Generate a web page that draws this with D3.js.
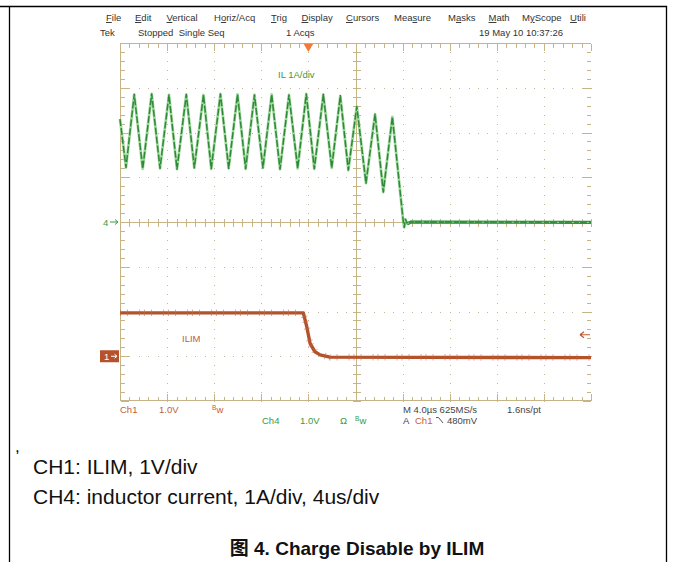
<!DOCTYPE html>
<html lang="en">
<head>
<meta charset="UTF-8">
<title>Charge Disable by ILIM</title>
<style>
  body { margin: 0; background: #fff; }
  svg { display: block; }
  text { font-family: "Liberation Sans", Arial, sans-serif; }
</style>
</head>
<body>
<script src="https://d3js.org/d3.v7.min.js"></script>
<script>
// scope settings
const timePerDiv = 4;          // us/div
const ch4Scale = 1;            // A/div
const ch1Scale = 1;            // V/div
const ch4Offset = 0;           // div
const ch1Offset = -3;          // div
const trigLevel = 0.48;        // V on Ch1

// CH4 inductor current (us, A)
const ilTime = [-16, -15.49, -14.79, -14.07, -13.31, -12.60, -11.84, -11.16, -10.37, -9.69,
  -8.91, -8.25, -7.47, -6.77, -6.02, -5.33, -4.58, -3.86, -3.12, -2.41,
  -1.65, -0.91, -0.18, 0.50, 1.27, 1.98, 2.71, 3.39, 4.11, 4.89,
  5.66, 6.36, 7.13, 8.06, 8.14, 8.24, 8.4, 8.7, 24];
const ilAmps = [2.30, 1.22, 2.85, 1.19, 2.86, 1.20, 2.84, 1.18, 2.85, 1.21,
  2.84, 1.19, 2.86, 1.20, 2.85, 1.19, 2.84, 1.21, 2.85, 1.18,
  2.84, 1.20, 2.86, 1.19, 2.85, 1.21, 2.82, 1.16, 2.58, 0.87,
  2.41, 0.67, 2.35, 0.00, -0.12, 0.06, -0.04, 0.0, -0.01];

// CH1 ILIM voltage (us, V)
const ilimTime = [-16, -0.43, -0.14, 0.14, 0.56, 0.99, 1.83, 24];
const ilimVolts = [0.97, 0.97, 0.66, 0.29, 0.10, 0.03, -0.02, -0.03];

const menuItems = ["File", "Edit", "Vertical", "Horiz/Acq", "Trig", "Display", "Cursors", "Measure", "Masks", "Math", "MyScope", "Utili"];
const menuKey = [0, 0, 0, 1, 0, 0, 0, 3, 1, 0, 1, 0];
const menuX = [106, 135, 166.5, 214, 271, 301.5, 346, 394, 448, 488.5, 522, 570];

const W = 683, H = 562;
const svg = d3.select("body").append("svg").attr("width", W).attr("height", H);

// page frame
svg.append("path")
  .attr("d", "M0,6.5H666.5V562M9.5,6.5V562")
  .attr("fill", "none").attr("stroke", "#000").attr("stroke-width", 1.3);

// scales
const x = d3.scaleLinear().domain([-4 * timePerDiv, 6 * timePerDiv]).range([120, 591]);
const dv = d3.scaleLinear().domain([-4, 4]).range([401, 43]);
const y4 = v => dv(v / ch4Scale + ch4Offset);
const y1 = v => dv(v / ch1Scale + ch1Offset);

const gridCol = "#c6b487";
const dotCol = "#c4b793";
const g = svg.append("g").attr("shape-rendering", "crispEdges");

const majT = d3.range(-16, 24.01, timePerDiv);
const minT = d3.range(-16, 24.01, timePerDiv / 5);
const majD = d3.range(-4, 4.01, 1);
const minD = d3.range(-4, 4.01, 0.2);

// dotted grid
majT.slice(1, -1).forEach(t => {
  if (t === 4) return;
  minD.forEach(d => g.append("rect").attr("x", Math.round(x(t))).attr("y", Math.round(dv(d))).attr("width", 1).attr("height", 1).attr("fill", dotCol));
});
majD.slice(1, -1).forEach(d => {
  if (d === 0) return;
  minT.forEach(t => g.append("rect").attr("x", Math.round(x(t))).attr("y", Math.round(dv(d))).attr("width", 1).attr("height", 1).attr("fill", dotCol));
});

// centre cross with ticks
const cx = Math.round(x(4)) + 0.5, cy = Math.round(dv(0)) + 0.5;
g.append("line").attr("x1", x(-16)).attr("x2", x(24)).attr("y1", cy).attr("y2", cy).attr("stroke", gridCol);
g.append("line").attr("x1", cx).attr("x2", cx).attr("y1", dv(4)).attr("y2", dv(-4)).attr("stroke", gridCol);
minT.forEach(t => g.append("line").attr("x1", Math.round(x(t)) + 0.5).attr("x2", Math.round(x(t)) + 0.5).attr("y1", cy - 4).attr("y2", cy + 4).attr("stroke", gridCol));
minD.forEach(d => g.append("line").attr("y1", Math.round(dv(d)) + 0.5).attr("y2", Math.round(dv(d)) + 0.5).attr("x1", cx - 4).attr("x2", cx + 4).attr("stroke", gridCol));

// edges
const L = 120.5, T = 43.5, B = 400.5, R = 590.5;
g.append("path").attr("d", `M${L},${B}V${T}H${R}M${L},${B}H${R}`).attr("fill", "none").attr("stroke", gridCol);
minT.forEach((t, i) => {
  const len = i % 5 === 0 ? 7 : 4;
  const px = Math.round(x(t)) + 0.5;
  g.append("line").attr("x1", px).attr("x2", px).attr("y1", T).attr("y2", T + len).attr("stroke", gridCol);
  g.append("line").attr("x1", px).attr("x2", px).attr("y1", B).attr("y2", B - len).attr("stroke", gridCol);
});
minD.forEach((d, i) => {
  const len = i % 5 === 0 ? 8 : 4;
  const py = Math.round(dv(d)) + 0.5;
  g.append("line").attr("y1", py).attr("y2", py).attr("x1", L).attr("x2", L + len).attr("stroke", gridCol);
  g.append("line").attr("y1", py).attr("y2", py).attr("x1", R).attr("x2", R - len).attr("stroke", gridCol);
});

// trigger position marker
svg.append("path")
  .attr("d", d3.symbol(d3.symbolTriangle, 40)())
  .attr("transform", `translate(${x(0)},${T + 3}) rotate(180)`)
  .attr("fill", "#f07a3a");

// traces
const ilLine = d3.line().x(d => x(d[0])).y(d => y4(d[1]));
const ilData = ilTime.map((t, i) => [t, ilAmps[i]]);
svg.append("path").datum(ilData).attr("d", ilLine)
  .attr("fill", "none").attr("stroke", "#a3d89e").attr("stroke-width", 2.8).attr("stroke-linejoin", "round");
svg.append("path").datum(ilData).attr("d", ilLine)
  .attr("fill", "none").attr("stroke", "#2c8a39").attr("stroke-width", 1.5).attr("stroke-dasharray", "7,2").attr("stroke-linejoin", "round");
svg.append("path").datum(ilData.filter(d => d[0] >= 8.4)).attr("d", ilLine)
  .attr("fill", "none").attr("stroke", "#348f40").attr("stroke-width", 3.2);
svg.append("path").datum(ilData.filter(d => d[0] >= 8.4)).attr("d", ilLine)
  .attr("fill", "none").attr("stroke", "#a6d79c").attr("stroke-width", 1).attr("stroke-dasharray", "2,5,1,7");

const ilimLine = d3.line().x(d => x(d[0])).y(d => y1(d[1]));
const ilimData = ilimTime.map((t, i) => [t, ilimVolts[i]]);
svg.append("path").datum(ilimData).attr("d", ilimLine)
  .attr("fill", "none").attr("stroke", "#b4522b").attr("stroke-width", 3.4).attr("stroke-linejoin", "round");
svg.append("path").datum(ilimData).attr("d", ilimLine)
  .attr("fill", "none").attr("stroke", "#c06a45").attr("stroke-width", 6.5).attr("stroke-dasharray", "1,6,1,11,1,4")
  .attr("opacity", 0.55);

// trigger level arrow
const ty = y1(trigLevel);
svg.append("path").attr("d", `M580,${ty}H590M580,${ty}l4,-3M580,${ty}l4,3`)
  .attr("fill", "none").attr("stroke", "#c05a32").attr("stroke-width", 1.2);

// channel ground markers
svg.append("text").attr("x", 103).attr("y", y4(0) + 3.5).attr("font-size", 9.5).attr("fill", "#3a9a40").text("4");
svg.append("path").attr("d", `M110,${y4(0)}H118M115,${y4(0) - 2.5}L118,${y4(0)}L115,${y4(0) + 2.5}`)
  .attr("fill", "none").attr("stroke", "#3a9a40").attr("stroke-width", 1);
svg.append("rect").attr("x", 100).attr("y", y1(0) - 6).attr("width", 19).attr("height", 12).attr("fill", "#b5522c");
svg.append("text").attr("x", 104).attr("y", y1(0) + 3.5).attr("font-size", 9.5).attr("fill", "#fff").text("1");
svg.append("path").attr("d", `M111,${y1(0)}H117M114.5,${y1(0) - 2}L117,${y1(0)}L114.5,${y1(0) + 2}`)
  .attr("fill", "none").attr("stroke", "#fff").attr("stroke-width", 1);

// trace labels
svg.append("text").attr("x", 278).attr("y", 78).attr("font-size", 9.5).attr("fill", "#3a9a40").text("IL 1A/div");
svg.append("text").attr("x", 182).attr("y", 342).attr("font-size", 9.5).attr("fill", "#c0603a").text("ILIM");

// menu bar
const menu = svg.append("g").attr("font-size", 9.5).attr("fill", "#333");
menuItems.forEach((m, i) => {
  const t = menu.append("text").attr("x", menuX[i]).attr("y", 21);
  const k = menuKey[i];
  if (k > 0) t.append("tspan").text(m.slice(0, k));
  t.append("tspan").style("text-decoration", "underline").text(m[k]);
  t.append("tspan").text(m.slice(k + 1));
});
const st = svg.append("g").attr("font-size", 9.5).attr("fill", "#333");
st.append("text").attr("x", 100).attr("y", 36).text("Tek");
st.append("text").attr("x", 138).attr("y", 36).attr("xml:space", "preserve").text("Stopped  Single Seq");
st.append("text").attr("x", 286).attr("y", 36).text("1 Acqs");
st.append("text").attr("x", 479).attr("y", 36).text("19 May 10 10:37:26");

// bottom readouts
const ro = svg.append("g").attr("font-size", 9.5);
const orange = "#c4603a", green = "#3a9a40";
ro.append("text").attr("x", 120).attr("y", 413).attr("fill", orange).text("Ch1");
ro.append("text").attr("x", 159).attr("y", 413).attr("fill", orange).text("1.0V");
ro.append("text").attr("x", 212).attr("y", 410).attr("font-size", 6.5).attr("fill", orange).text("B");
ro.append("text").attr("x", 216.5).attr("y", 413).attr("fill", orange).text("w");
ro.append("text").attr("x", 262).attr("y", 424).attr("fill", green).text("Ch4");
ro.append("text").attr("x", 300).attr("y", 424).attr("fill", green).text("1.0V");
ro.append("text").attr("x", 340).attr("y", 424).attr("fill", green).text("Ω");
ro.append("text").attr("x", 355).attr("y", 421).attr("font-size", 6.5).attr("fill", green).text("B");
ro.append("text").attr("x", 359.5).attr("y", 424).attr("fill", green).text("w");
ro.append("text").attr("x", 403).attr("y", 413).attr("fill", "#444").text("M 4.0µs 625MS/s");
ro.append("text").attr("x", 507).attr("y", 413).attr("fill", "#444").text("1.6ns/pt");
ro.append("text").attr("x", 403).attr("y", 424).attr("fill", "#444").text("A");
ro.append("text").attr("x", 415).attr("y", 424).attr("fill", orange).text("Ch1");
ro.append("path").attr("d", "M436,417.5H438.5L443,423").attr("fill", "none").attr("stroke", "#444").attr("stroke-width", 0.9);
ro.append("text").attr("x", 447).attr("y", 424).attr("fill", "#444").text("480mV");

// caption
svg.append("text").attr("x", 15).attr("y", 452).attr("font-size", 17).text(",");
svg.append("text").attr("x", 33).attr("y", 474).attr("font-size", 21).attr("fill", "#111").text("CH1: ILIM, 1V/div");
svg.append("text").attr("x", 33).attr("y", 504).attr("font-size", 21).attr("fill", "#111").text("CH4: inductor current, 1A/div, 4us/div");
svg.append("text").attr("x", 357).attr("y", 555).attr("text-anchor", "middle").attr("font-size", 19).attr("font-weight", "bold").attr("fill", "#111")
  .style("font-family", "'Liberation Sans', 'Noto Sans CJK SC', sans-serif").text("图 4. Charge Disable by ILIM");
</script>
</body>
</html>
